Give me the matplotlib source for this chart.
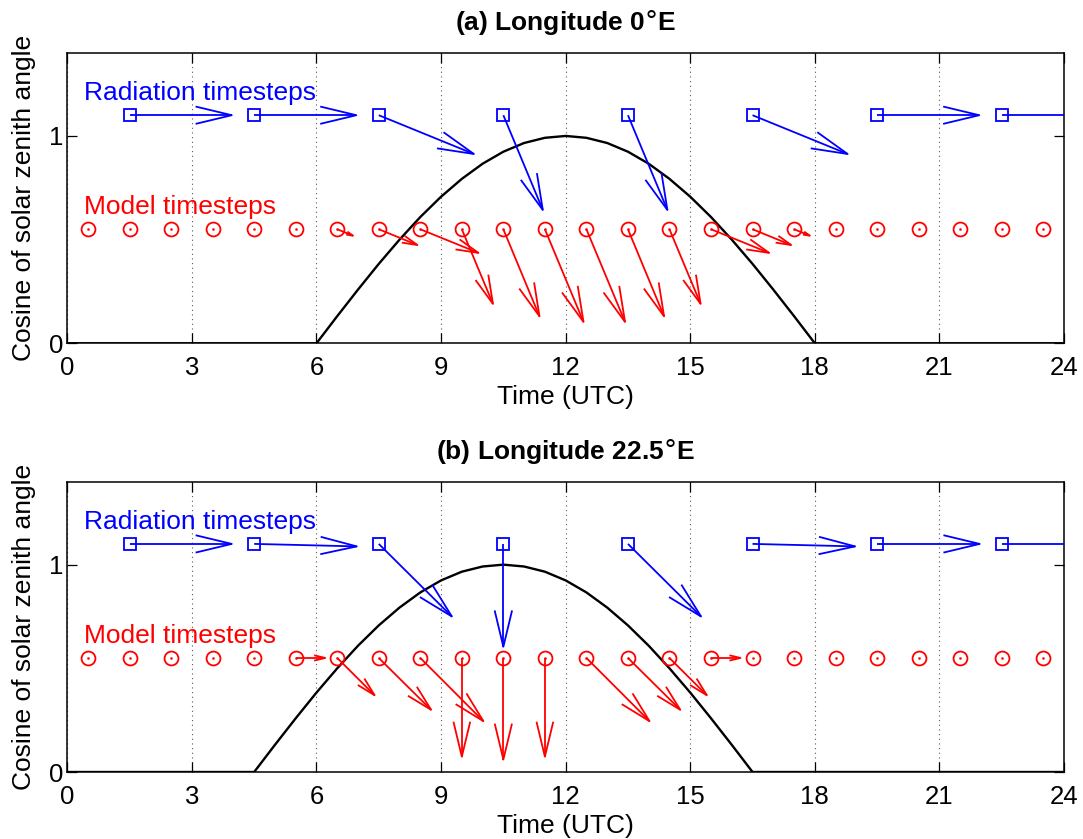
import numpy as np
import matplotlib
matplotlib.use("Agg")
import matplotlib.pyplot as plt

plt.rcParams['font.family'] = ['Liberation Sans', 'DejaVu Sans']
plt.rcParams['mathtext.fontset'] = 'dejavusans'

# ---------------- data ----------------
titles = ["(a) Longitude 0$\\mathrm{\u00b0}$E", "(b) Longitude 22.5$\\mathrm{\u00b0}$E"]
xticks = [0, 3, 6, 9, 12, 15, 18, 21, 24]
yticks = [0, 1]

# cosine of solar zenith angle
curve_t_a = [0.0, 6.0, 6.5, 7.0, 7.5, 8.0, 8.5, 9.0, 9.5, 10.0, 10.5, 11.0, 11.5, 12.0,
             12.5, 13.0, 13.5, 14.0, 14.5, 15.0, 15.5, 16.0, 16.5, 17.0, 17.5, 18.0, 24.0]
curve_t_b = [0.0, 4.5, 5.0, 5.5, 6.0, 6.5, 7.0, 7.5, 8.0, 8.5, 9.0, 9.5, 10.0, 10.5,
             11.0, 11.5, 12.0, 12.5, 13.0, 13.5, 14.0, 14.5, 15.0, 15.5, 16.0, 16.5, 24.0]
curve_mu_a = [0.0, 0.000, 0.131, 0.259, 0.383, 0.500, 0.609, 0.707, 0.793, 0.866, 0.924, 0.966, 0.991,
              1.000, 0.991, 0.966, 0.924, 0.866, 0.793, 0.707, 0.609, 0.500, 0.383, 0.259, 0.131, 0.000, 0.0]
curve_mu_b = [0.0, 0.000, 0.131, 0.259, 0.383, 0.500, 0.609, 0.707, 0.793, 0.866, 0.924, 0.966, 0.991,
              1.000, 0.991, 0.966, 0.924, 0.866, 0.793, 0.707, 0.609, 0.500, 0.383, 0.259, 0.131, 0.000, 0.0]

# radiation timesteps (blue squares) and their arrows
rad_t = [1.5, 4.5, 7.5, 10.5, 13.5, 16.5, 19.5, 22.5]
rad_level = 1.1
rad_u_a = [2.46, 2.46, 2.29, 0.95, 0.95, 2.29, 2.46, 2.46]
rad_v_a = [0.0, 0.0, -0.187, -0.457, -0.457, -0.187, 0.0, 0.0]
rad_u_b = [2.46, 2.47, 1.76, 0.0, 1.76, 2.47, 2.47, 2.46]
rad_v_b = [0.0, -0.012, -0.35, -0.496, -0.35, -0.012, 0.0, 0.0]

# model timesteps (red circles) and their arrows
model_t = [0.5, 1.5, 2.5, 3.5, 4.5, 5.5, 6.5, 7.5, 8.5, 9.5, 10.5, 11.5,
           12.5, 13.5, 14.5, 15.5, 16.5, 17.5, 18.5, 19.5, 20.5, 21.5, 22.5, 23.5]
model_level = 0.55
model_u_a = [0, 0, 0, 0, 0, 0, 0.38, 0.93, 1.40, 0.75, 0.87, 0.93,
             0.93, 0.87, 0.75, 1.40, 0.93, 0.38, 0, 0, 0, 0, 0, 0]
model_v_a = [0, 0, 0, 0, 0, 0, -0.031, -0.076, -0.114, -0.36, -0.42, -0.447,
             -0.447, -0.42, -0.36, -0.114, -0.076, -0.031, 0, 0, 0, 0, 0, 0]
model_u_b = [0, 0, 0, 0, 0, 0.71, 0.90, 1.26, 1.52, 0, 0, 0,
             1.52, 1.26, 0.90, 0.71, 0, 0, 0, 0, 0, 0, 0, 0]
model_v_b = [0, 0, 0, 0, 0, 0, -0.18, -0.25, -0.305, -0.476, -0.49, -0.476,
             -0.305, -0.25, -0.18, 0, 0, 0, 0, 0, 0, 0, 0, 0]

panels = [
    (titles[0], curve_t_a, curve_mu_a, rad_u_a, rad_v_a, model_u_a, model_v_a),
    (titles[1], curve_t_b, curve_mu_b, rad_u_b, rad_v_b, model_u_b, model_v_b),
]

# ---------------- figure ----------------
W, H = 1083, 839
fig = plt.figure(figsize=(W / 100, H / 100), dpi=100)
ax_left = 67.3 / W
ax_w = (1064 - 67.3) / W
ax_h = 290.3 / H
bottoms = [1 - 343.3 / H, 1 - 772.0 / H]

FS = 19
TFS = 18.5
ALW = 1.3


def draw_arrow(ax, x, y, u, v, color):
    if u == 0 and v == 0:
        return
    p0 = ax.transData.transform((x, y))
    p1 = ax.transData.transform((x + u, y + v))
    d = p1 - p0
    L = np.hypot(*d)
    e = d / L
    n = np.array([-e[1], e[0]])
    hl = 0.345 * L
    hw = 0.24 * hl
    back = p1 - e * hl
    a = back + n * hw
    b = back - n * hw
    inv = ax.transData.inverted()
    line = inv.transform(np.array([p0, p1]))
    head = inv.transform(np.array([a, p1, b]))
    ax.plot(line[:, 0], line[:, 1], color=color, lw=ALW, solid_capstyle='butt', zorder=3)
    ax.plot(head[:, 0], head[:, 1], color=color, lw=ALW, zorder=3)


for (title, ct, cmu, ru, rv, mu_, mv), bot in zip(panels, bottoms):
    ax = fig.add_axes([ax_left, bot, ax_w, ax_h])
    ax.set_xlim(0, 24)
    ax.set_ylim(0, 1.4)
    ax.set_xticks(xticks)
    ax.set_yticks(yticks)
    ax.tick_params(direction='in', length=7.5, width=0.9, top=True, right=True,
                   labelsize=TFS)
    ax.tick_params(axis='x', pad=9.5)
    ax.tick_params(axis='y', pad=3)
    for sp in ax.spines.values():
        sp.set_linewidth(1.1)
    ax.grid(axis='x', linestyle=(0, (1, 3.2)), color='0.35', lw=0.8)
    ax.set_axisbelow(True)

    ax.plot(ct, cmu, color='k', lw=1.7, zorder=2)

    for t, u, v in zip(rad_t, ru, rv):
        draw_arrow(ax, t, rad_level, u, v, 'b')
    for t, u, v in zip(model_t, mu_, mv):
        draw_arrow(ax, t, model_level, u, v, 'r')

    ax.plot(rad_t, [rad_level] * len(rad_t), ls='none', marker='s', ms=8.0,
            mfc='none', mec='b', mew=1.3, zorder=4)
    ax.plot(model_t, [model_level] * len(model_t), ls='none', marker='o', ms=10.0,
            mfc='none', mec='r', mew=1.3, zorder=4)
    ax.plot(model_t, [model_level] * len(model_t), ls='none', marker='o', ms=1.5,
            mfc='r', mec='r', mew=0.3, zorder=4)

    ax.text(0.4, 1.172, "Radiation timesteps", color='b', fontsize=FS, va='baseline', ha='left')
    ax.text(0.4, 0.623, "Model timesteps", color='r', fontsize=FS, va='baseline', ha='left')

    ax.set_title(title, fontsize=FS, fontweight='bold', pad=16.3)
    ax.set_xlabel("Time (UTC)", fontsize=FS, va='baseline')
    ax.xaxis.set_label_coords(0.5, -0.209)
    ax.set_ylabel("Cosine of solar zenith angle", fontsize=FS, va='baseline')
    ax.yaxis.set_label_coords(-0.0364, 0.5)

fig.savefig("out.png", dpi=100)
